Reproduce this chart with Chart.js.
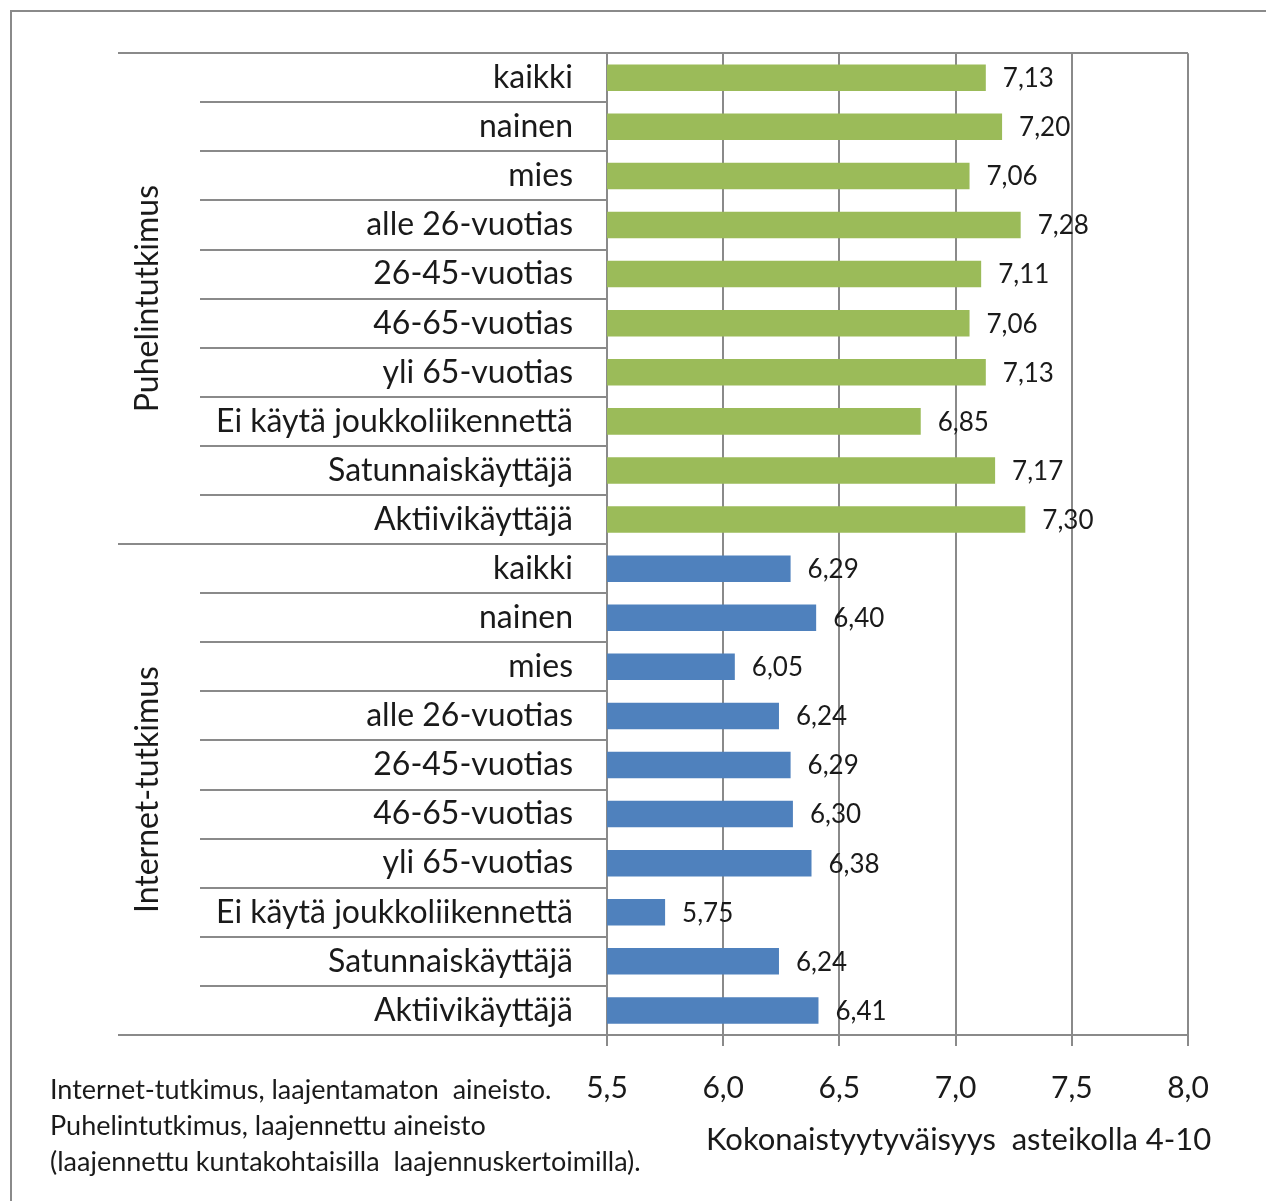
<!DOCTYPE html>
<html>
<head>
<meta charset="utf-8">
<script src="https://cdn.jsdelivr.net/npm/chart.js@4.4.1/dist/chart.umd.min.js"></script>
<style>
    html, body { margin: 0; padding: 0; background: #ffffff; }
    canvas { display: block; }
</style>
</head>
<body>
<canvas id="satisfactionChart" width="1266" height="1201"></canvas>
<script>
const groupLabels = ['Puhelintutkimus', 'Internet-tutkimus'];
const categories = ['kaikki', 'nainen', 'mies', 'alle 26-vuotias', '26-45-vuotias', '46-65-vuotias',
    'yli 65-vuotias', 'Ei käytä joukkoliikennettä', 'Satunnaiskäyttäjä', 'Aktiivikäyttäjä'];
const phoneValues = [7.13, 7.20, 7.06, 7.28, 7.11, 7.06, 7.13, 6.85, 7.17, 7.30];
const internetValues = [6.29, 6.40, 6.05, 6.24, 6.29, 6.30, 6.38, 5.75, 6.24, 6.41];
const xTicks = [5.5, 6.0, 6.5, 7.0, 7.5, 8.0];
const axisTitle = 'Kokonaistyytyväisyys  asteikolla 4-10';
const footnote = [
    'Internet-tutkimus, laajentamaton  aineisto.',
    'Puhelintutkimus, laajennettu aineisto',
    '(laajennettu kuntakohtaisilla  laajennuskertoimilla).'
];

const FONT = 'Lato';
const LINE = '#8a8a8a';
const TEXT = '#1a1a1a';
const comma = (v, d) => v.toFixed(d).replace('.', ',');

const labels = categories.concat(categories);
const values = phoneValues.concat(internetValues);
const colors = values.map((v, i) => i < phoneValues.length ? '#9bbb59' : '#4f81bd');

// frame, row separators, group names, value labels, footnote
const decorations = {
    id: 'decorations',
    beforeDraw(chart) {
        const ctx = chart.ctx;
        ctx.save();
        ctx.strokeStyle = LINE;
        ctx.lineWidth = 2;
        ctx.strokeRect(11, 11, 1400, 1400);
        ctx.restore();
    },
    afterDraw(chart) {
        const ctx = chart.ctx;
        const area = chart.chartArea;
        const y = chart.scales.y;
        const x = chart.scales.x;
        const n = labels.length;
        const innerX = area.left - 407;
        const outerX = area.left - 489;

        ctx.save();
        ctx.strokeStyle = LINE;
        ctx.lineWidth = 2;
        for (let i = 0; i <= n; i++) {
            let py;
            if (i === 0) py = area.top;
            else if (i === n) py = area.bottom;
            else py = (y.getPixelForValue(i - 1) + y.getPixelForValue(i)) / 2;
            const isGroup = i === 0 || i === n || i === phoneValues.length;
            ctx.beginPath();
            ctx.moveTo(isGroup ? outerX : innerX, Math.round(py));
            ctx.lineTo(i === 0 ? area.right : area.left, Math.round(py));
            ctx.stroke();
        }
        ctx.restore();

        // group names, rotated
        ctx.save();
        ctx.fillStyle = TEXT;
        ctx.font = '32px ' + FONT;
        ctx.textAlign = 'center';
        ctx.textBaseline = 'middle';
        const groupSizes = [phoneValues.length, internetValues.length];
        let start = 0;
        groupSizes.forEach((size, g) => {
            const top = y.getPixelForValue(start) - y.height / n / 2;
            const bottom = y.getPixelForValue(start + size - 1) + y.height / n / 2;
            ctx.save();
            ctx.translate(148, (top + bottom) / 2);
            ctx.rotate(-Math.PI / 2);
            ctx.fillText(groupLabels[g], 0, 0);
            ctx.restore();
            start += size;
        });
        ctx.restore();

        // value labels
        ctx.save();
        ctx.fillStyle = TEXT;
        ctx.font = '26px ' + FONT;
        ctx.textAlign = 'left';
        ctx.textBaseline = 'middle';
        chart.getDatasetMeta(0).data.forEach((bar, i) => {
            ctx.fillText(comma(values[i], 2), bar.x + 17, bar.y + 1);
        });
        ctx.restore();

        // axis title and footnote
        ctx.save();
        ctx.fillStyle = TEXT;
        ctx.font = '31px ' + FONT;
        ctx.textAlign = 'center';
        ctx.textBaseline = 'middle';
        ctx.fillText(axisTitle, x.getPixelForValue(7.0) + 3, 1140);
        ctx.font = '27px ' + FONT;
        ctx.textAlign = 'left';
        footnote.forEach((line, i) => ctx.fillText(line, 50, 1090 + i * 36));
        ctx.restore();
    }
};

new Chart(document.getElementById('satisfactionChart').getContext('2d'), {
    type: 'bar',
    data: {
        labels: labels,
        datasets: [{
            data: values,
            backgroundColor: colors,
            borderWidth: 0,
            categoryPercentage: 1,
            barPercentage: 0.54
        }]
    },
    options: {
        indexAxis: 'y',
        responsive: false,
        animation: false,
        layout: { padding: { top: 50, right: 78, left: 0, bottom: 0 } },
        plugins: {
            legend: { display: false },
            tooltip: { enabled: false }
        },
        scales: {
            x: {
                type: 'linear',
                min: xTicks[0],
                max: xTicks[xTicks.length - 1],
                afterFit: (scale) => { scale.height = 166; },
                afterBuildTicks: (scale) => { scale.ticks = xTicks.map(v => ({ value: v })); },
                ticks: {
                    callback: (v) => comma(v, 1),
                    font: { family: FONT, size: 30 },
                    color: TEXT,
                    padding: 24,
                    maxRotation: 0
                },
                grid: { color: LINE, lineWidth: 2, tickLength: 11, tickColor: LINE },
                border: { display: true, color: LINE, width: 2 }
            },
            y: {
                type: 'category',
                afterFit: (scale) => { scale.width = 607; },
                ticks: {
                    font: { family: FONT, size: 32 },
                    color: TEXT,
                    padding: 34,
                    autoSkip: false
                },
                grid: { display: false, drawTicks: false },
                border: { display: true, color: LINE, width: 2 }
            }
        }
    },
    plugins: [decorations]
});
</script>
</body>
</html>
